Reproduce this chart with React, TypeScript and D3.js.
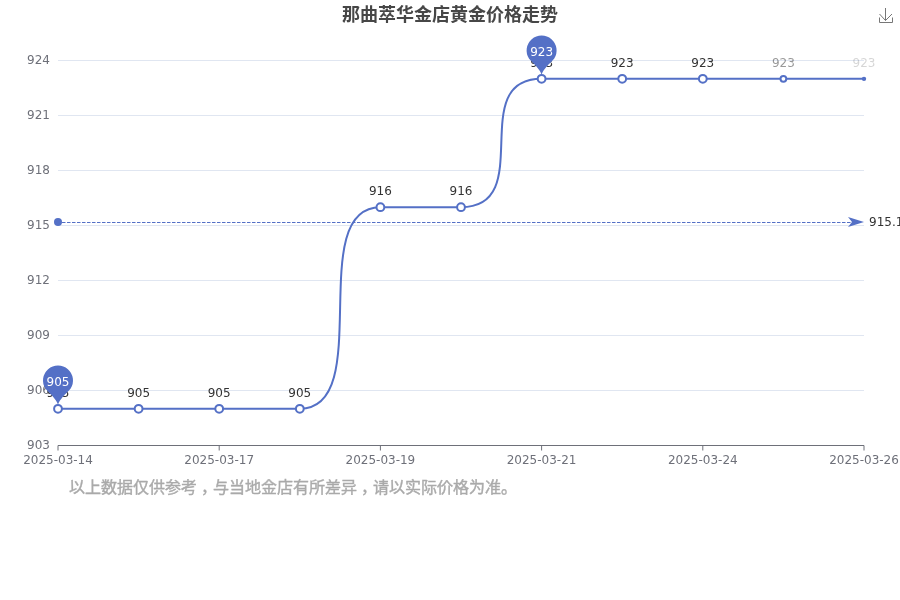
import React from "react";
import * as d3 from "d3";

const WIDTH = 900;
const HEIGHT = 600;
const MARGIN = { top: 60.5, right: 36, bottom: 154.5, left: 58 };
const FONT = "'DejaVu Sans', 'Noto Sans CJK SC', sans-serif";
const CJK_FONT = "'Noto Sans CJK SC', 'DejaVu Sans', sans-serif";
const NOTE_FONT = "'Noto Sans CJK KR', 'DejaVu Sans', sans-serif";
const BLUE = "#5470C6";

const TITLE = "那曲萃华金店黄金价格走势";
const NOTE_PARTS = ["以上数据仅供参考", "，", "与当地金店有所差异", "，", "请以实际价格为准。"];

const dates = [
	"2025-03-14",
	"2025-03-15",
	"2025-03-17",
	"2025-03-18",
	"2025-03-19",
	"2025-03-20",
	"2025-03-21",
	"2025-03-22",
	"2025-03-24",
	"2025-03-25",
	"2025-03-26",
];
const prices = [905, 905, 905, 905, 916, 916, 923, 923, 923, 923, 923];
const yTicks = [903, 906, 909, 912, 915, 918, 921, 924];
const xTicks = ["2025-03-14", "2025-03-17", "2025-03-19", "2025-03-21", "2025-03-24", "2025-03-26"];
const average = 915.18;
const minPoint = { date: "2025-03-14", value: 905 };
const maxPoint = { date: "2025-03-21", value: 923 };
// the right end of the series is still fading in
const labelOpacity = [1, 1, 1, 1, 1, 1, 1, 1, 1, 0.5, 0.2];
const symbolRadius = [3.9, 3.9, 3.9, 3.9, 3.9, 3.9, 3.9, 3.9, 3.9, 2.9, 1.2];

// horizontal tangent S-curve, steeper than d3.curveBumpX
const steepBump = (context: any) => {
	let x0 = 0;
	let y0 = 0;
	let started = false;
	return {
		lineStart() {
			started = false;
		},
		lineEnd() {},
		point(x: number, y: number) {
			if (!started) {
				context.moveTo(x, y);
				started = true;
			} else {
				const dx = (x - x0) * 0.95;
				context.bezierCurveTo(x0 + dx, y0, x - dx, y, x, y);
			}
			x0 = x;
			y0 = y;
		},
	};
};

const pinPath = (x: number, y: number) => {
	const tip = y - 4;
	const cy = y - 28.5;
	return (
		`M${x} ${tip} C${x - 2} ${tip - 6} ${x - 7} ${tip - 10} ${x - 12.5} ${cy + 8.5} ` +
		`A15 15 0 1 1 ${x + 12.5} ${cy + 8.5} C${x + 7} ${tip - 10} ${x + 2} ${tip - 6} ${x} ${tip} Z`
	);
};

export default function App() {
	const boundsWidth = WIDTH - MARGIN.left - MARGIN.right;
	const boundsBottom = HEIGHT - MARGIN.bottom;

	const xScale = d3.scalePoint().domain(dates).range([MARGIN.left, MARGIN.left + boundsWidth]);
	const yScale = d3.scaleLinear().domain([903, 924]).range([boundsBottom, MARGIN.top]);

	const line = d3
		.line<number>()
		.x((_, i) => xScale(dates[i]) as number)
		.y((d) => yScale(d))
		.curve(steepBump as any);

	const avgY = Math.round(yScale(average)) + 0.5;
	const xEnd = MARGIN.left + boundsWidth;

	return (
		<svg
			width={WIDTH}
			height={HEIGHT}
			style={{ position: "absolute", left: 0, top: 0 }}
			fontFamily={FONT}
		>
			<defs>
				<filter id="soft" x="-5%" y="-30%" width="110%" height="160%">
					<feGaussianBlur stdDeviation="0.4" />
				</filter>
				<filter id="softer" x="-5%" y="-30%" width="110%" height="160%">
					<feGaussianBlur stdDeviation="0.5" />
				</filter>
			</defs>
			{/* opacity keeps the text on a layer of its own, so it gets grey antialiasing */}
			<g opacity={0.999}>
				<text
					x={450}
					y={20.5}
					textAnchor="middle"
					fontSize={18}
					fontWeight="bold"
					fontFamily={CJK_FONT}
					fill="#464646"
					filter="url(#soft)"
				>
					{TITLE}
				</text>

				{/* save icon */}
				<path
					d="M879.5 17.5 V22.5 H892.5 V17.5 M885.5 8 V20.5 M879.5 14 L885.5 20.5 L892 14"
					fill="none"
					stroke="#777"
					strokeWidth={1}
				/>

				{yTicks.map((t) => (
					<g key={t}>
						{t !== 903 && (
							<line x1={MARGIN.left} x2={xEnd} y1={yScale(t)} y2={yScale(t)} stroke="#E0E6F1" />
						)}
						<text x={50} y={yScale(t) - 0.5} dy="0.35em" textAnchor="end" fontSize={12} fill="#6E7079">
							{t}
						</text>
					</g>
				))}

				<line x1={MARGIN.left} x2={xEnd} y1={boundsBottom} y2={boundsBottom} stroke="#6E7079" />
				{xTicks.map((t) => (
					<g key={t}>
						<line
							x1={xScale(t)}
							x2={xScale(t)}
							y1={boundsBottom}
							y2={boundsBottom + 5}
							stroke="#6E7079"
						/>
						<text
							x={xScale(t)}
							y={boundsBottom + 18}
							textAnchor="middle"
							fontSize={12}
							fill="#6E7079"
						>
							{t}
						</text>
					</g>
				))}

				<path d={line(prices) ?? ""} fill="none" stroke={BLUE} strokeWidth={2} />

				{prices.map((d, i) => (
					<g key={i}>
						<circle
							cx={xScale(dates[i])}
							cy={yScale(d)}
							r={symbolRadius[i]}
							fill={i === 10 ? BLUE : "#fff"}
							stroke={BLUE}
							strokeWidth={2}
						/>
						<text
							x={xScale(dates[i])}
							y={yScale(d) - 12}
							textAnchor="middle"
							fontSize={12}
							fill="#333"
							opacity={labelOpacity[i]}
						>
							{d}
						</text>
					</g>
				))}

				{/* average line */}
				<circle cx={MARGIN.left} cy={avgY - 0.5} r={4} fill={BLUE} />
				<line
					x1={MARGIN.left + 4}
					x2={xEnd - 12}
					y1={avgY}
					y2={avgY}
					stroke={BLUE}
					strokeWidth={1}
					strokeDasharray="3.5 1.5"
				/>
				<path
					d={`M${xEnd} ${avgY - 0.5} L${xEnd - 16} ${avgY - 5.5} L${xEnd - 12} ${avgY - 0.5} L${xEnd - 16} ${avgY + 4.5} Z`}
					fill={BLUE}
				/>
				<text x={xEnd + 5} y={avgY - 0.5} dy="0.35em" fontSize={12} fill="#333">
					{average}
				</text>

				{/* min and max pins */}
				{[minPoint, maxPoint].map((p) => {
					const x = xScale(p.date) as number;
					const y = yScale(p.value);
					return (
						<g key={p.date}>
							<path d={pinPath(x, y)} fill={BLUE} />
							<text x={x} y={y - 27} dy="0.35em" textAnchor="middle" fontSize={12} fill="#fff">
								{p.value}
							</text>
						</g>
					);
				})}

				<text
					x={69}
					y={493}
					fontSize={16}
					fontFamily={NOTE_FONT}
					fill="#aaa"
					stroke="#aaa"
					strokeWidth={0.4}
					filter="url(#softer)"
				>
					{/* the commas sit in the middle of their cell in the original */}
					{NOTE_PARTS.map((part, i) => (
						<tspan key={i} dx={part === "，" ? 4 : i > 0 ? -4 : 0}>
							{part}
						</tspan>
					))}
				</text>
			</g>
		</svg>
	);
}
